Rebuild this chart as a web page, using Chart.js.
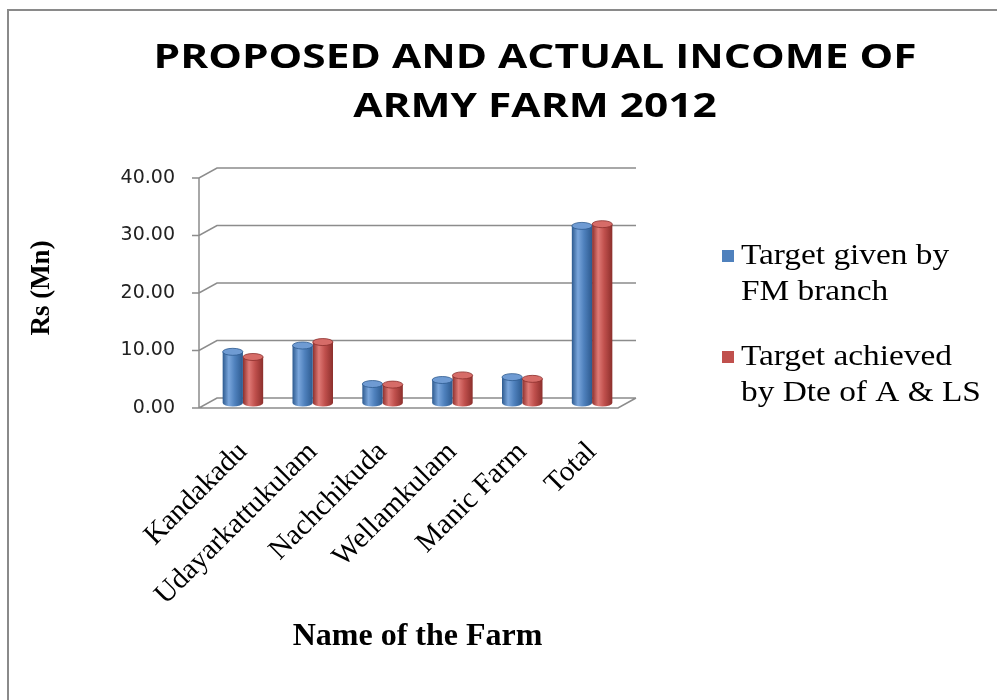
<!DOCTYPE html>
<html>
<head>
<meta charset="utf-8">
<script src="https://cdn.jsdelivr.net/npm/chart.js@4"></script>
<style>
  html, body { margin: 0; padding: 0; background: #fff; }
</style>
</head>
<body>
<canvas id="chart" width="997" height="700"></canvas>
<script>
// data (Rs Mn)
const farms = ["Kandakadu", "Udayarkattukulam", "Nachchikuda", "Wellamkulam", "Manic Farm", "Total"];
const targetGiven = [8.9, 10.0, 3.3, 4.0, 4.5, 30.8];
const targetAchieved = [8.0, 10.6, 3.2, 4.8, 4.2, 31.1];
const yTicks = [0, 10, 20, 30, 40];
const titleLines = ["PROPOSED AND ACTUAL INCOME OF", "ARMY FARM 2012"];
const legendLines = [["Target given by", "FM branch"], ["Target achieved", "by Dte of A & LS"]];

const CAT_PCT = 0.58;
const DX = 9, DY = 5; // half depth of the fake 3d box

const palette = [
  { base: "#4f81bd", light: "#7aa6dc", dark: "#2d5a8f", cap: "#6f9bd3" },
  { base: "#c0504d", light: "#df7a76", dark: "#8c2f2c", cap: "#d66c68" },
];

// horizontal gradient so the bars look like cylinders
const cylinder = (ds) => (ctx) => {
  const chart = ctx.chart;
  const xs = chart.scales.x;
  const p = palette[ds];
  if (!xs || ctx.dataIndex === undefined) return p.base;
  const w = xs.width / farms.length * CAT_PCT / 2;
  const c = xs.getPixelForValue(ctx.dataIndex);
  if (!isFinite(w) || !isFinite(c) || w <= 0) return p.base;
  const x0 = ds === 0 ? c - w : c;
  const g = chart.ctx.createLinearGradient(x0, 0, x0 + w, 0);
  g.addColorStop(0, p.dark);
  g.addColorStop(0.3, p.light);
  g.addColorStop(0.6, p.base);
  g.addColorStop(1, p.dark);
  return g;
};

const frame = {
  id: "frame",
  beforeDraw(chart) {
    const { ctx } = chart;
    ctx.save();
    ctx.fillStyle = "#fff";
    ctx.fillRect(0, 0, chart.width, chart.height);
    ctx.strokeStyle = "#8a8a8a";
    ctx.lineWidth = 2;
    ctx.beginPath();
    ctx.moveTo(8, 705);
    ctx.lineTo(8, 10);
    ctx.lineTo(1000, 10);
    ctx.stroke();

    // title, a bit stretched like the original
    ctx.font = "bold 34px 'Open Sans'";
    ctx.fillStyle = "#000";
    ctx.textAlign = "center";
    ctx.textBaseline = "alphabetic";
    const sx = 763 / ctx.measureText(titleLines[0]).width;
    [68, 117].forEach((y, i) => {
      ctx.save();
      ctx.translate(535, y);
      ctx.scale(sx, 1);
      ctx.fillText(titleLines[i], 0, 0);
      ctx.restore();
    });
    ctx.restore();
  },
  beforeDatasetsDraw(chart) {
    const { ctx, chartArea: a } = chart;
    const ys = chart.scales.y;
    ctx.save();
    ctx.strokeStyle = "#8c8c8c";
    ctx.lineWidth = 1.5;
    ctx.beginPath();
    yTicks.forEach((v) => {
      const y = ys.getPixelForValue(v);
      ctx.moveTo(a.left - DX - 7, y + DY);
      ctx.lineTo(a.left - DX, y + DY);
      ctx.lineTo(a.left + DX, y - DY);
      ctx.lineTo(a.right + DX, y - DY);
    });
    // front axis
    ctx.moveTo(a.left - DX, ys.getPixelForValue(40) + DY);
    ctx.lineTo(a.left - DX, a.bottom + DY);
    // floor front edge
    ctx.lineTo(a.right - DX, a.bottom + DY);
    ctx.lineTo(a.right + DX, a.bottom - DY);
    ctx.stroke();
    ctx.restore();
  },
  afterDatasetsDraw(chart) {
    const { ctx } = chart;
    ctx.save();
    chart.data.datasets.forEach((d, i) => {
      const meta = chart.getDatasetMeta(i);
      meta.data.forEach((el, k) => {
        const rx = el.width / 2;
        // rounded bottom
        ctx.fillStyle = cylinder(i)({ chart, dataIndex: k });
        ctx.beginPath();
        ctx.ellipse(el.x, el.base, rx, 3.5, 0, 0, Math.PI);
        ctx.fill();
        // top cap
        ctx.fillStyle = palette[i].cap;
        ctx.strokeStyle = palette[i].dark;
        ctx.lineWidth = 0.8;
        ctx.beginPath();
        ctx.ellipse(el.x, el.y, rx, 3.5, 0, 0, Math.PI * 2);
        ctx.fill();
        ctx.stroke();
      });
    });
    ctx.restore();
  },
  afterDraw(chart) {
    const { ctx } = chart;
    const tops = [256, 357];
    ctx.save();
    ctx.font = "29px 'Liberation Serif'";
    ctx.textBaseline = "middle";
    legendLines.forEach((lines, i) => {
      ctx.fillStyle = palette[i].base;
      ctx.fillRect(722, tops[i] - 6, 12, 12);
      ctx.fillStyle = "#000";
      lines.forEach((t, j) => {
        ctx.save();
        ctx.translate(741, tops[i] + j * 36);
        ctx.scale(1.15, 1);
        ctx.fillText(t, 0, 0);
        ctx.restore();
      });
    });
    ctx.restore();
  },
};

new Chart(document.getElementById("chart"), {
  type: "bar",
  data: {
    labels: farms,
    datasets: [
      {
        label: "Target given by FM branch",
        data: targetGiven,
        backgroundColor: cylinder(0),
        categoryPercentage: CAT_PCT,
        barPercentage: 1,
      },
      {
        label: "Target achieved by Dte of A & LS",
        data: targetAchieved,
        backgroundColor: cylinder(1),
        categoryPercentage: CAT_PCT,
        barPercentage: 1,
      },
    ],
  },
  options: {
    responsive: false,
    animation: false,
    layout: { padding: { top: 173, left: 10, right: 370, bottom: 0 } },
    plugins: {
      legend: { display: false },
      tooltip: { enabled: false },
      title: { display: false },
    },
    scales: {
      x: {
        grid: { display: false },
        border: { display: false },
        ticks: {
          color: "#000",
          font: { family: "'Liberation Serif'", size: 29 },
          minRotation: 45,
          maxRotation: 45,
          autoSkip: false,
          padding: 24,
        },
        title: {
          display: true,
          text: "Name of the Farm",
          color: "#000",
          font: { family: "'Liberation Serif'", size: 32, weight: "bold" },
          padding: { top: 0, bottom: 44 },
        },
        afterFit: (s) => { s.height = 297; },
      },
      y: {
        min: 0,
        max: 40,
        grid: { display: false },
        border: { display: false },
        ticks: {
          stepSize: 10,
          color: "#222",
          font: { family: "'DejaVu Sans'", size: 19 },
          padding: 25,
          labelOffset: 5,
          callback: (v) => Number(v).toFixed(2),
        },
        title: {
          display: true,
          text: "Rs (Mn)",
          color: "#000",
          font: { family: "'Liberation Serif'", size: 27, weight: "bold" },
          padding: { top: 16, bottom: 0 },
        },
        afterFit: (s) => { s.width = 198; },
      },
    },
  },
  plugins: [frame],
});
</script>
</body>
</html>
